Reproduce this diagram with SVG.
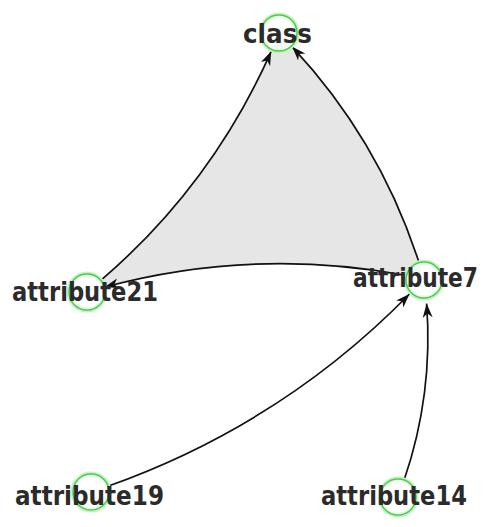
<svg xmlns="http://www.w3.org/2000/svg" width="488" height="527" viewBox="0 0 488 527">
<style>
.edge{fill:none;stroke:#111;stroke-width:1.7;marker-end:url(#arrow)}
.halo{fill:none;stroke:#c4f2c4;stroke-width:5}
.ring{fill:#fff;fill-opacity:0.6;stroke:#4ccc4c;stroke-width:1.5}
.lbl{font-family:"DejaVu Sans Condensed","DejaVu Sans",sans-serif;font-weight:bold;font-size:26px;fill:#2b2b2b}
</style>
<defs>
<marker id="arrow" markerUnits="userSpaceOnUse" markerWidth="16" markerHeight="12" viewBox="0 -6 16 12" refX="14" refY="0" orient="auto">
<path d="M0,-5 L14,0 L0,5 L4,0 Z" fill="#111"/>
</marker>
</defs>
<rect width="488" height="527" fill="#fff"/>
<path id="hull" d="M87,292 Q216,186.9 279,33 Q382.8,137.6 424,279 Q253.9,242.7 87,292 Z" fill="#e6e6e6"/>
<g id="edges">
<path class="edge" d="M102.2,279.2 Q212.3,184.1 271.2,51.3"/>
<path class="edge" d="M418.6,261.3 Q379.2,140 292.2,46.8"/>
<path class="edge" d="M406,275.4 Q254.1,247 104.7,287"/>
<path class="edge" d="M108.5,486 Q282.2,424.1 409.5,294"/>
<path class="edge" d="M404.3,479.6 Q433.5,393.8 426.6,303.6"/>
</g>
<g id="class">
<circle class="halo" cx="279" cy="33" r="18"/>
<circle class="ring" cx="279" cy="33" r="18"/>
<text class="lbl" x="243" y="43" textLength="69" lengthAdjust="spacingAndGlyphs">class</text>
</g>
<g id="attribute21">
<circle class="halo" cx="87" cy="292" r="18"/>
<circle class="ring" cx="87" cy="292" r="18"/>
<text class="lbl" x="12" y="300.5" textLength="146" lengthAdjust="spacingAndGlyphs">attribute21</text>
</g>
<g id="attribute7">
<circle class="halo" cx="424" cy="280" r="18"/>
<circle class="ring" cx="424" cy="280" r="18"/>
<text class="lbl" x="353" y="287" textLength="125" lengthAdjust="spacingAndGlyphs">attribute7</text>
</g>
<g id="attribute19">
<circle class="halo" cx="91" cy="492" r="18"/>
<circle class="ring" cx="91" cy="492" r="18"/>
<text class="lbl" x="15" y="505" textLength="149" lengthAdjust="spacingAndGlyphs">attribute19</text>
</g>
<g id="attribute14">
<circle class="halo" cx="398" cy="497" r="18"/>
<circle class="ring" cx="398" cy="497" r="18"/>
<text class="lbl" x="321" y="505" textLength="146" lengthAdjust="spacingAndGlyphs">attribute14</text>
</g>
</svg>
